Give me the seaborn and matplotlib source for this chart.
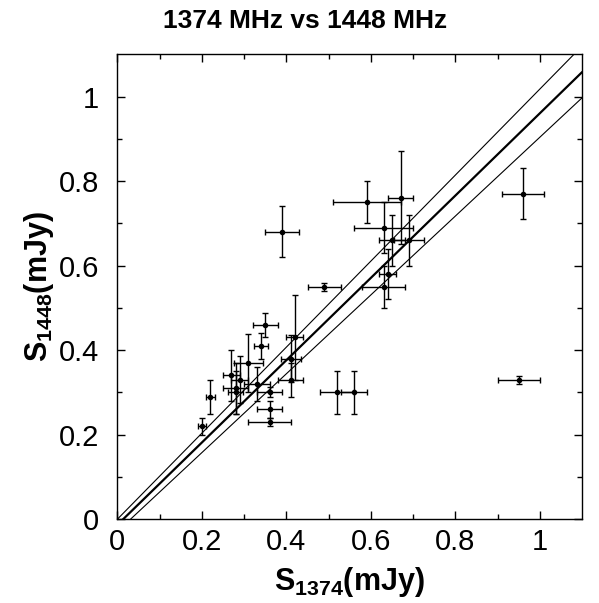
import numpy as np
import pandas as pd
import matplotlib
matplotlib.use("Agg")
import matplotlib.pyplot as plt
import seaborn as sns

# ---- data ----
s1374 = [0.20, 0.22, 0.27, 0.28, 0.28, 0.29, 0.31, 0.33, 0.34, 0.35, 0.36, 0.36, 0.36,
         0.39, 0.41, 0.41, 0.42, 0.49, 0.52, 0.56, 0.59, 0.63, 0.63, 0.64, 0.65, 0.67,
         0.69, 0.96, 0.95]
s1448 = [0.22, 0.29, 0.34, 0.31, 0.30, 0.33, 0.37, 0.32, 0.41, 0.46, 0.30, 0.26, 0.23,
         0.68, 0.38, 0.33, 0.43, 0.55, 0.30, 0.30, 0.75, 0.69, 0.55, 0.58, 0.66, 0.76,
         0.66, 0.77, 0.33]
err1374 = [0.01, 0.01, 0.02, 0.03, 0.018, 0.02, 0.034, 0.03, 0.017, 0.03, 0.03, 0.03, 0.05,
           0.04, 0.024, 0.03, 0.02, 0.04, 0.04, 0.03, 0.08, 0.07, 0.05, 0.02, 0.03, 0.03,
           0.035, 0.05, 0.05]
err1448 = [0.02, 0.04, 0.06, 0.06, 0.05, 0.055, 0.068, 0.04, 0.03, 0.028, 0.012, 0.02, 0.01,
           0.06, 0.055, 0.04, 0.10, 0.009, 0.05, 0.05, 0.05, 0.06, 0.05, 0.06, 0.06, 0.11,
           0.06, 0.06, 0.009]

# fitted relation and its bounds (slope, intercept)
fit_slopes = [1.018, 0.974, 0.933]
fit_intercepts = [0.0, -0.0133, -0.029]
fit_widths = [0.8, 1.6, 0.8]

x_ticks = [0, 0.2, 0.4, 0.6, 0.8, 1]
x_tick_labels = ["0", "0.2", "0.4", "0.6", "0.8", "1"]
y_ticks = [0, 0.2, 0.4, 0.6, 0.8, 1]
y_tick_labels = ["0", "0.2", "0.4", "0.6", "0.8", "1"]

df = pd.DataFrame({"S1374": s1374, "S1448": s1448, "e1374": err1374, "e1448": err1448})

sns.set_style("ticks")
plt.rcParams["font.family"] = ["Liberation Sans", "DejaVu Sans"]
plt.rcParams["text.color"] = "black"
plt.rcParams["axes.labelcolor"] = "black"
plt.rcParams["xtick.color"] = "black"
plt.rcParams["ytick.color"] = "black"
plt.rcParams["mathtext.fontset"] = "custom"
plt.rcParams["mathtext.rm"] = "Liberation Sans"
plt.rcParams["mathtext.bf"] = "Liberation Sans:bold"

fig = plt.figure(figsize=(5.99, 6.03), dpi=100)
ax = fig.add_axes([0.196, 0.139, 0.776, 0.771])

# fit lines
xs = np.linspace(0, 1.1, 200)
for a, b, w in zip(fit_slopes, fit_intercepts, fit_widths):
    line_df = pd.DataFrame({"x": xs, "y": a * xs + b})
    sns.lineplot(data=line_df, x="x", y="y", ax=ax, color="black", linewidth=w,
                 estimator=None, sort=False)

ax.errorbar(df["S1374"], df["S1448"], xerr=df["e1374"], yerr=df["e1448"],
            fmt="none", ecolor="black", elinewidth=1.0, capsize=2.5, capthick=1.0)
sns.scatterplot(data=df, x="S1374", y="S1448", ax=ax, color="black", s=16,
                edgecolor="black", linewidth=0, zorder=5)

ax.set_xlim(0, 1.1)
ax.set_ylim(0, 1.1)
ax.set_xticks(x_ticks)
ax.set_xticklabels(x_tick_labels)
ax.set_yticks(y_ticks)
ax.set_yticklabels(y_tick_labels)
ax.set_xticks(np.arange(0.1, 1.1, 0.2), minor=True)
ax.set_yticks(np.arange(0.1, 1.1, 0.2), minor=True)
ax.tick_params(which="both", direction="in", top=True, right=True, labelsize=21,
               color="black", labelcolor="black")
ax.tick_params(axis="x", which="both", pad=6)
ax.tick_params(axis="y", which="both", pad=13)
ax.tick_params(which="major", length=6, width=1)
ax.tick_params(which="minor", length=3.5, width=1)
for sp in ax.spines.values():
    sp.set_linewidth(1.0)
    sp.set_color("black")

ax.set_xlabel(r"$\mathbf{S_{1374}(mJy)}$", fontsize=22, labelpad=7, color="black")
ax.set_ylabel(r"$\mathbf{S_{1448}(mJy)}$", fontsize=22, labelpad=2, color="black")
fig.text(0.51, 0.965, "1374 MHz vs 1448 MHz", ha="center", va="center",
         fontsize=19, fontweight="bold", color="black")

fig.savefig("out.png", dpi=100)
